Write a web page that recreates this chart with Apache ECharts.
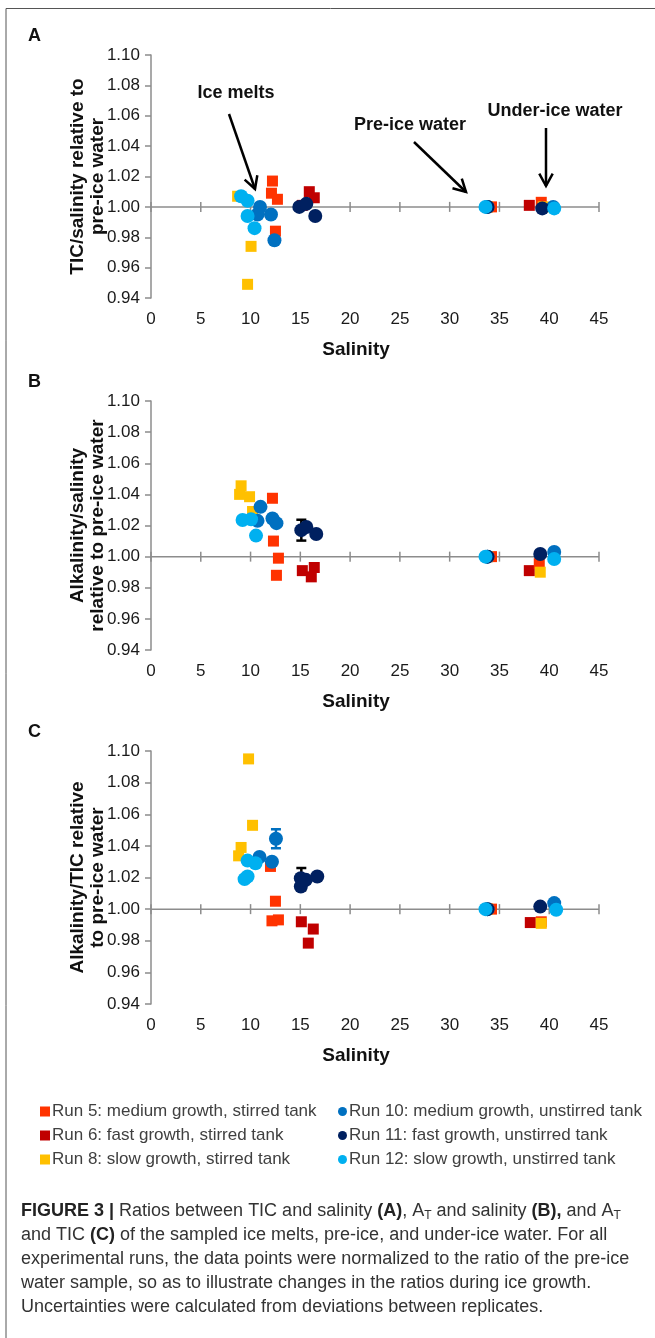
<!DOCTYPE html>
<html><head><meta charset="utf-8">
<script src="https://cdn.jsdelivr.net/npm/echarts@6/dist/echarts.min.js"></script>
<style>html,body{margin:0;padding:0;background:#fff}#c{width:655px;height:1338px}</style>
</head><body><div id="c"></div>
<script>
// ---------- categories / labels ----------
const runNames = [
  'Run 5: medium growth, stirred tank',
  'Run 6: fast growth, stirred tank',
  'Run 8: slow growth, stirred tank',
  'Run 10: medium growth, unstirred tank',
  'Run 11: fast growth, unstirred tank',
  'Run 12: slow growth, unstirred tank'
];
const runColors = ['#FF3300', '#C00000', '#FFC000', '#0070C0', '#002060', '#00B0F0'];
const runSymbols = ['rect', 'rect', 'rect', 'circle', 'circle', 'circle'];
const panelLetters = ['A', 'B', 'C'];
const yTitles = [
  ['TIC/salinity relative to', 'pre-ice water'],
  ['Alkalinity/salinity', 'relative to pre-ice water'],
  ['Alkalinity/TIC relative', 'to pre-ice water']
];
const xTitle = 'Salinity';
const xMin = 0, xMax = 45, xStep = 5;
const xTickValues = [0, 5, 10, 15, 20, 25, 30, 35, 40, 45];
const yMin = 0.94, yMax = 1.10, yStep = 0.02;
const refLine = 1.00;

// ---------- Panel A: TIC/salinity ----------  [salinity, ratio]
const A_run5  = [[12.2, 1.017], [12.1, 1.009], [12.7, 1.005], [12.5, 0.984], [34.2, 1.000], [39.2, 1.003]];
const A_run6  = [[15.9, 1.010], [16.4, 1.006], [15.2, 1.001], [33.8, 1.000], [38.0, 1.001]];
const A_run8  = [[8.7, 1.007], [10.05, 0.974], [9.7, 0.949], [33.8, 1.000], [39.4, 1.000]];
const A_run10 = [[10.95, 1.000], [10.7, 0.995], [12.05, 0.995], [12.4, 0.978], [33.8, 1.000], [40.4, 1.000]];
const A_run11 = [[14.9, 1.000], [15.6, 1.002], [16.5, 0.994], [33.8, 1.000], [39.3, 0.999]];
const A_run12 = [[9.05, 1.007], [9.7, 1.004], [9.7, 0.994], [10.4, 0.986], [33.6, 1.000], [40.5, 0.999]];
const A_err = [[], [], [], [], [], []];

// ---------- Panel B: Alkalinity/salinity ----------
const B_run5  = [[12.2, 1.0375], [12.3, 1.010], [12.8, 0.999], [12.6, 0.988], [34.2, 1.000], [39.0, 0.9955]];
const B_run6  = [[15.2, 0.991], [16.4, 0.993], [16.1, 0.987], [33.8, 1.000], [38.0, 0.991]];
const B_run8  = [[9.05, 1.0455], [8.9, 1.040], [9.9, 1.0385], [10.2, 1.029], [33.8, 1.000], [39.1, 0.990]];
const B_run10 = [[11.0, 1.032], [10.7, 1.023], [12.2, 1.0245], [12.6, 1.0215], [33.8, 1.000], [40.5, 1.003]];
const B_run11 = [[15.1, 1.017], [15.6, 1.019], [16.6, 1.0145], [33.8, 1.000], [39.1, 1.0017]];
const B_run12 = [[9.2, 1.0235], [10.05, 1.024], [10.55, 1.0135], [33.6, 1.000], [40.5, 0.9985]];
const B_err = [[], [], [], [], [[15.1, 1.017, 0.0067]], []];

// ---------- Panel C: Alkalinity/TIC ----------
const C_run5  = [[12.0, 1.027], [12.5, 1.005], [12.15, 0.9926], [12.8, 0.9932], [34.2, 1.000], [39.2, 0.992]];
const C_run6  = [[15.1, 0.992], [16.3, 0.9874], [15.8, 0.9785], [33.8, 1.000], [38.1, 0.9915]];
const C_run8  = [[9.8, 1.095], [10.2, 1.053], [9.05, 1.039], [8.8, 1.0337], [33.8, 1.000], [39.2, 0.991]];
const C_run10 = [[12.55, 1.0445], [10.9, 1.033], [12.15, 1.030], [33.8, 1.000], [40.5, 1.0038]];
const C_run11 = [[15.05, 1.0196], [15.05, 1.0143], [15.55, 1.0185], [16.7, 1.0206], [33.8, 1.000], [39.1, 1.0016]];
const C_run12 = [[9.7, 1.0307], [10.5, 1.029], [9.4, 1.019], [9.7, 1.0206], [33.6, 1.000], [40.7, 0.9996]];
const C_err = [[], [], [], [[12.55, 1.0445, 0.006]], [[15.1, 1.019, 0.007]], []];

const panelData = [
  [A_run5, A_run6, A_run8, A_run10, A_run11, A_run12],
  [B_run5, B_run6, B_run8, B_run10, B_run11, B_run12],
  [C_run5, C_run6, C_run8, C_run10, C_run11, C_run12]
];
const panelErr = [A_err, B_err, C_err];

// ---------- layout ----------
const FONT = 'Liberation Sans, Arial, sans-serif';
const AX = '#8c8c8c';
const panels = [
  {top: 55, height: 243},
  {top: 401, height: 249},
  {top: 751, height: 253}
];
const gridLeft = 151, gridWidth = 448;
const drawOrder = [1, 0, 2, 3, 4, 5]; // z stacking (run 6 lowest ... run 12 on top)
const errColors = ['#000', '#000', '#000', '#0070C0', '#000000', '#000'];

const grids = [], xAxes = [], yAxes = [], series = [], graphics = [];

panels.forEach((p, gi) => {
  grids.push({left: gridLeft, width: gridWidth, top: p.top, height: p.height});
  xAxes.push({type: 'value', gridIndex: gi, min: xMin, max: xMax, interval: xStep,
    position: 'bottom', splitLine: {show: false},
    axisLine: {show: false, onZero: false}, axisTick: {show: false},
    axisLabel: {fontFamily: FONT, fontSize: 17, color: '#1a1a1a', margin: 13}
  });
  yAxes.push({type: 'value', gridIndex: gi, min: yMin, max: yMax, interval: yStep,
    splitLine: {show: false},
    axisLine: {show: true, onZero: false, lineStyle: {color: AX, width: 1.5}},
    axisTick: {show: true, length: 6, lineStyle: {color: AX, width: 1.5}},
    axisLabel: {fontFamily: FONT, fontSize: 17, color: '#1a1a1a', margin: 11,
      formatter: v => v.toFixed(2)}
  });

  // horizontal reference axis at ratio = 1 with ticks crossing it
  series.push({
    type: 'custom', xAxisIndex: gi, yAxisIndex: gi, z: 0, silent: true,
    data: xTickValues.map(v => [v, refLine]),
    renderItem: (params, api) => {
      const c = api.coord([api.value(0), api.value(1)]);
      const st = {stroke: AX, lineWidth: 1.5};
      const children = [{type: 'line', shape: {x1: c[0], y1: c[1] - 5, x2: c[0], y2: c[1] + 5}, style: st}];
      if (params.dataIndex === 0) {
        const e = api.coord([xMax, refLine]);
        children.push({type: 'line', shape: {x1: c[0], y1: c[1], x2: e[0], y2: e[1]}, style: st});
      }
      return {type: 'group', children: children};
    }
  });

  // error bars (drawn under markers)
  panelErr[gi].forEach((errs, ri) => {
    if (!errs.length) return;
    const col = errColors[ri];
    series.push({
      type: 'custom', name: runNames[ri], xAxisIndex: gi, yAxisIndex: gi, z: 1,
      data: errs.map(e => [e[0], e[1] - e[2], e[1] + e[2]]),
      encode: {x: 0, y: [1, 2]},
      renderItem: (params, api) => {
        const x = api.value(0);
        const a = api.coord([x, api.value(1)]);
        const b = api.coord([x, api.value(2)]);
        const w = 5, st = {stroke: col, lineWidth: 2.5};
        return {type: 'group', children: [
          {type: 'line', shape: {x1: a[0], y1: a[1], x2: b[0], y2: b[1]}, style: st},
          {type: 'line', shape: {x1: a[0] - w, y1: a[1], x2: a[0] + w, y2: a[1]}, style: st},
          {type: 'line', shape: {x1: b[0] - w, y1: b[1], x2: b[0] + w, y2: b[1]}, style: st}
        ]};
      }
    });
  });

  drawOrder.forEach((ri, k) => {
    series.push({
      type: 'scatter', name: runNames[ri], xAxisIndex: gi, yAxisIndex: gi,
      data: panelData[gi][ri], symbol: runSymbols[ri],
      symbolSize: runSymbols[ri] === 'rect' ? 11 : 14,
      itemStyle: {color: runColors[ri], opacity: 1},
      z: 2 + k, silent: true, animation: false
    });
  });

  // panel letter, axis titles
  graphics.push({type: 'text', left: 28, top: p.top - 28,
    style: {text: panelLetters[gi], font: 'bold 18px ' + FONT, fill: '#111'}});
  graphics.push({type: 'text', x: 356, y: p.top + p.height + 52,
    style: {text: xTitle, font: 'bold 19px ' + FONT, fill: '#111', align: 'center', verticalAlign: 'middle'}});
  const cy = p.top + p.height / 2;
  graphics.push({type: 'text', x: 78, y: cy, rotation: Math.PI / 2,
    style: {text: yTitles[gi][0], font: 'bold 19px ' + FONT, fill: '#111', align: 'center', verticalAlign: 'middle'}});
  graphics.push({type: 'text', x: 98, y: cy, rotation: Math.PI / 2,
    style: {text: yTitles[gi][1], font: 'bold 19px ' + FONT, fill: '#111', align: 'center', verticalAlign: 'middle'}});
});

// annotations in panel A
function arrow(x1, y1, x2, y2) {
  const ang = Math.atan2(y2 - y1, x2 - x1), L = 14, s = 0.5;
  const h1 = [x2 - L * Math.cos(ang - s), y2 - L * Math.sin(ang - s)];
  const h2 = [x2 - L * Math.cos(ang + s), y2 - L * Math.sin(ang + s)];
  const st = {stroke: '#000', lineWidth: 2.5, fill: null};
  return [
    {type: 'polyline', shape: {points: [[x1, y1], [x2, y2]]}, style: st},
    {type: 'polyline', shape: {points: [h1, [x2, y2], h2]}, style: st}
  ];
}
const annFont = 'bold 18px ' + FONT;
graphics.push({type: 'text', x: 236, y: 93, style: {text: 'Ice melts', font: annFont, fill: '#111', align: 'center', verticalAlign: 'middle'}});
graphics.push({type: 'text', x: 410, y: 125, style: {text: 'Pre-ice water', font: annFont, fill: '#111', align: 'center', verticalAlign: 'middle'}});
graphics.push({type: 'text', x: 555, y: 111, style: {text: 'Under-ice water', font: annFont, fill: '#111', align: 'center', verticalAlign: 'middle'}});
arrow(229, 114, 255, 189).forEach(g => graphics.push(g));
arrow(414, 142, 466, 192).forEach(g => graphics.push(g));
arrow(546, 128, 546, 186).forEach(g => graphics.push(g));

// frame
graphics.push({type: 'polyline', shape: {points: [[6, 1338], [6, 8.5], [655, 8.5]]}, style: {stroke: '#555', lineWidth: 1, fill: null}});

// caption
const capLines = [
  '{b|FIGURE 3 |} Ratios between TIC and salinity {b|(A)}, A{s|T} and salinity {b|(B),} and A{s|T}',
  'and TIC {b|(C)} of the sampled ice melts, pre-ice, and under-ice water. For all',
  'experimental runs, the data points were normalized to the ratio of the pre-ice',
  'water sample, so as to illustrate changes in the ratios during ice growth.',
  'Uncertainties were calculated from deviations between replicates.'
];
capLines.forEach((t, i) => {
  graphics.push({type: 'text', left: 21, top: 1200 + i * 24,
    style: {text: t, font: '18px ' + FONT, fill: '#333', lineHeight: 22,
      rich: {b: {fontWeight: 'bold', fontSize: 18, fontFamily: FONT, fill: '#222', lineHeight: 22},
             s: {fontSize: 12, fontFamily: FONT, fill: '#333', lineHeight: 12, verticalAlign: 'bottom'}}}});
});

const legendText = {fontFamily: FONT, fontSize: 17, color: '#404040', padding: [0, 0, 0, -3]};
const option = {
  animation: false,
  backgroundColor: '#fff',
  grid: grids, xAxis: xAxes, yAxis: yAxes, series: series,
  legend: [
    {data: runNames.slice(0, 3), orient: 'vertical', left: 35, top: 1098, itemGap: 7,
      itemWidth: 10, itemHeight: 10, icon: 'rect', textStyle: legendText, selectedMode: false},
    {data: runNames.slice(3), orient: 'vertical', left: 333, top: 1098, itemGap: 7,
      itemWidth: 9, itemHeight: 9, icon: 'circle', textStyle: legendText, selectedMode: false}
  ],
  graphic: graphics
};
const chart = echarts.init(document.getElementById('c'), null, {renderer: 'canvas'});
chart.setOption(option);
</script>
</body></html>
